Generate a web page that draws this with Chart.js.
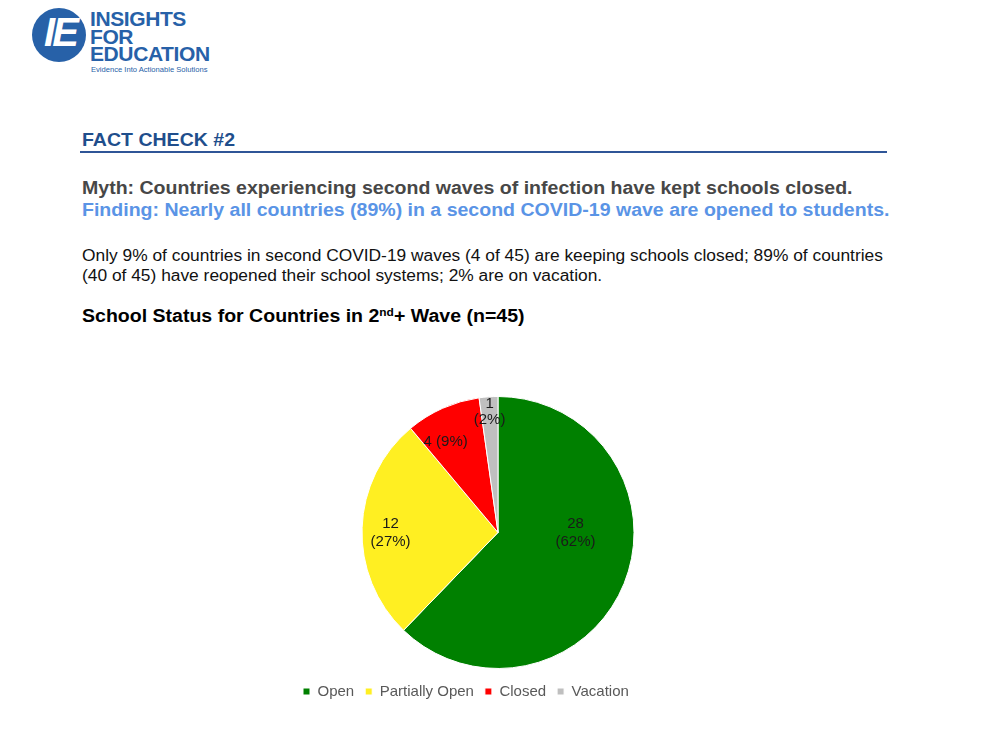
<!DOCTYPE html>
<html>
<head>
<meta charset="utf-8">
<script src="https://cdn.jsdelivr.net/npm/chart.js@4.4.0/dist/chart.umd.min.js"></script>
<style>
  html, body { margin: 0; padding: 0; background: #fff; }
  body { width: 986px; height: 735px; position: relative; overflow: hidden; font-family: "Liberation Sans", Arial, sans-serif; }
  .abs { position: absolute; white-space: nowrap; }
  .wide { transform: scaleX(1.085); transform-origin: 0 50%; line-height: 20px; }
  #logoCircle { left: 32px; top: 8px; width: 54px; height: 54px; border-radius: 50%; background: #2761a8; }
  #logoIE { left: 38px; top: 10px; width: 44px; text-align: center; color: #fff; font-weight: bold; font-style: italic; font-size: 40px; letter-spacing: -3px; }
  #logoTxt { left: 90px; top: 10px; color: #2761a8; font-weight: bold; font-size: 21px; line-height: 17.5px; letter-spacing: -0.4px; }
  #tag { left: 91px; top: 65px; color: #2761a8; font-size: 7.6px; }
  #fact { left: 82px; top: 130px; color: #1f4e8c; font-weight: bold; font-size: 18px; }
  #rule { left: 80px; top: 151px; width: 807px; height: 2px; background: #2f5597; }
  #myth { left: 82px; top: 178px; color: #474747; font-weight: bold; font-size: 18px; }
  #finding { left: 82px; top: 200px; color: #5a94e6; font-weight: bold; font-size: 18px; }
  .para { left: 82px; color: #111; font-size: 16px; }
  #chartTitle { left: 82px; top: 306px; color: #000; font-weight: bold; font-size: 18px; }
  #chartTitle sup { font-size: 11px; vertical-align: 6px; line-height: 0; }
  #chartBox { left: 292px; top: 381px; width: 412px; height: 328px; }
</style>
</head>
<body>
<div class="abs" id="logoCircle"></div>
<div class="abs" id="logoIE">IE</div>
<div class="abs" id="logoTxt">INSIGHTS<br>FOR<br>EDUCATION</div>
<div class="abs" id="tag">Evidence Into Actionable Solutions</div>

<div class="abs wide" id="fact">FACT CHECK #2</div>
<div class="abs" id="rule"></div>
<div class="abs wide" id="myth">Myth: Countries experiencing second waves of infection have kept schools closed.</div>
<div class="abs wide" id="finding">Finding: Nearly all countries (89%) in a second COVID-19 wave are opened to students.</div>
<div class="abs wide para" style="top:246px">Only 9% of countries in second COVID-19 waves (4 of 45) are keeping schools closed; 89% of countries</div>
<div class="abs wide para" style="top:266px">(40 of 45) have reopened their school systems; 2% are on vacation.</div>
<div class="abs wide" id="chartTitle">School Status for Countries in 2<sup>nd</sup>+ Wave (n=45)</div>

<div class="abs" id="chartBox"><canvas id="pie"></canvas></div>

<script>
// school status counts (n=45)
const categorias = ["Open", "Partially Open", "Closed", "Vacation"];
const paises = [28, 12, 4, 1];
const colores = ["#008000", "#ffef22", "#ff0000", "#bfbfbf"];

// dibuja "valor (porcentaje)" dentro de cada porcion
const etiquetasPorcion = {
  id: "etiquetasPorcion",
  afterDatasetsDraw(chart, args, opts) {
    const ctx = chart.ctx;
    const meta = chart.getDatasetMeta(0);
    const data = chart.data.datasets[0].data;
    const total = data.reduce((a, b) => a + b, 0);
    ctx.save();
    ctx.font = opts.font;
    ctx.fillStyle = opts.color;
    ctx.textAlign = "center";
    ctx.textBaseline = "middle";
    meta.data.forEach((arc, i) => {
      const p = arc.getProps(["x", "y", "startAngle", "endAngle", "outerRadius"], true);
      const ang = (p.startAngle + p.endAngle) / 2 + opts.angleShift[i] * Math.PI / 180;
      const r = p.outerRadius * opts.radius[i];
      const cx = p.x + Math.cos(ang) * r;
      const cy = p.y + Math.sin(ang) * r;
      const pct = Math.round(data[i] / total * 100);
      const lines = opts.oneLine[i] ? [`${data[i]} (${pct}%)`] : [`${data[i]}`, `(${pct}%)`];
      const lh = opts.lineHeight[i];
      lines.forEach((t, k) => {
        ctx.fillText(t, cx, cy + (k - (lines.length - 1) / 2) * lh);
      });
    });
    ctx.restore();
  }
};

new Chart(document.getElementById("pie"), {
  type: "pie",
  data: {
    labels: categorias,
    datasets: [{
      data: paises,
      backgroundColor: colores,
      borderColor: "#ffffff",
      borderWidth: 1
    }]
  },
  options: {
    responsive: true,
    maintainAspectRatio: false,
    animation: false,
    radius: 136,
    layout: { padding: { top: 11 } },
    plugins: {
      tooltip: { enabled: false },
      legend: {
        position: "bottom",
        align: "start",
        labels: {
          boxWidth: 7,
          boxHeight: 7,
          padding: 11,
          color: "#595959",
          font: { family: "Liberation Sans", size: 15 }
        }
      },
      etiquetasPorcion: {
        font: "15px 'Liberation Sans'",
        color: "#1a1a1a",
        radius: [0.57, 0.79, 0.77, 0.89],
        angleShift: [-22, -2, -6, 0],
        oneLine: [false, false, true, false],
        lineHeight: [18, 18, 18, 16]
      }
    }
  },
  plugins: [etiquetasPorcion]
});
</script>
</body>
</html>
